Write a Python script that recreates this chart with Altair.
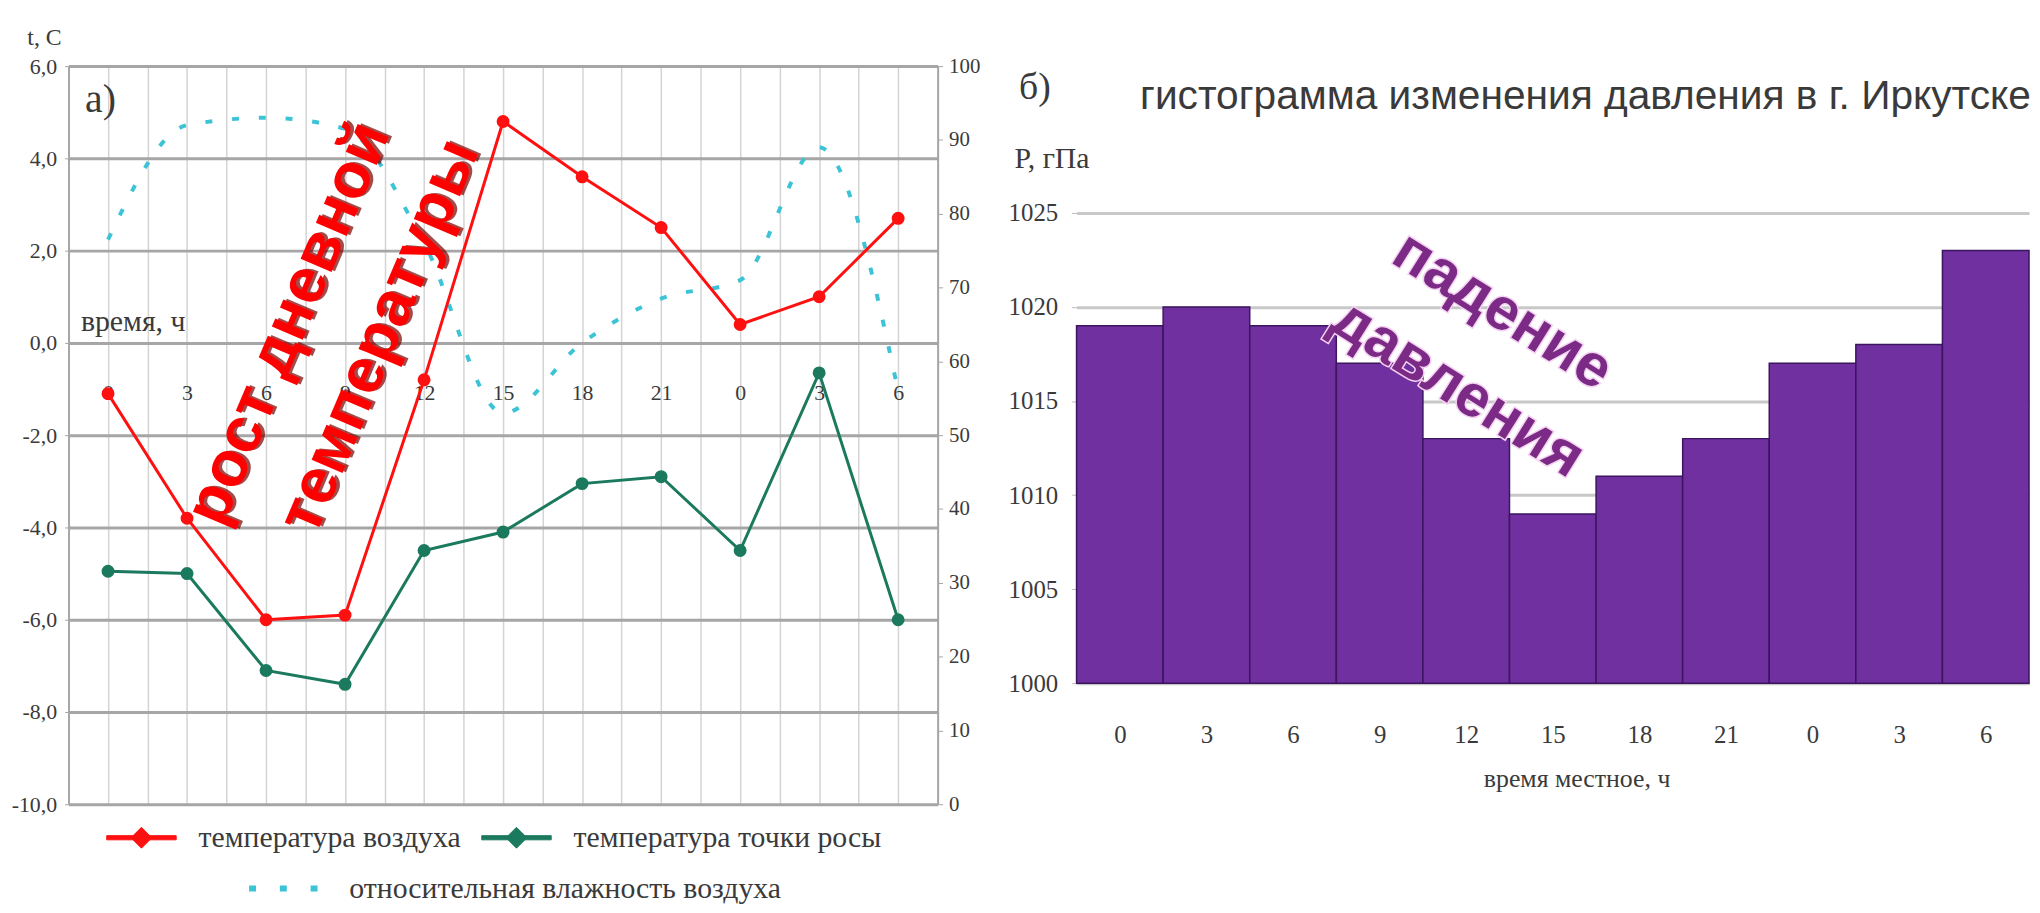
import json
import altair as alt
import pandas as pd

# ---------------- data ----------------
hour_labels = ["0", "3", "6", "9", "12", "15", "18", "21", "0", "3", "6"]
air_temp = [-1.1, -3.8, -6.0, -5.9, -0.8, 4.8, 3.6, 2.5, 0.4, 1.0, 2.7]
dew_point = [-4.95, -5.0, -7.1, -7.4, -4.5, -4.1, -3.05, -2.9, -4.5, -0.65, -6.0]
humidity = [76.5, 92, 93, 91.5, 76, 53, 62.5, 68.5, 71, 89, 56]
pressure = [1019, 1020, 1019, 1017, 1013, 1009, 1011, 1013, 1017, 1018, 1023]

series_air = "температура воздуха"
series_dew = "температура точки росы"
series_hum = "относительная влажность воздуха"

n = len(hour_labels)
idx = list(range(n))
temp_df = pd.DataFrame({
    "idx": idx + idx,
    "value": air_temp + dew_point,
    "series": [series_air] * n + [series_dew] * n,
})
hum_df = pd.DataFrame({"idx": idx, "hum": humidity, "series": [series_hum] * n})
press_df = pd.DataFrame({"idx": idx, "p": pressure})
dummy = pd.DataFrame({"d": [0]})

LBL = json.dumps(hour_labels, ensure_ascii=False)
SERIF = "Liberation Serif"
SANS = "Liberation Sans"
TXT = "#3a3a3a"

# ---------------- left chart ----------------
LW, LH = 876, 744

x_left = alt.X(
    "idx:Q",
    scale=alt.Scale(domain=[-0.5, 10.5], nice=False, zero=False),
    axis=alt.Axis(
        values=[i / 2 for i in range(-1, 22)], tickCount=100,
        labelExpr=f"datum.value % 1 == 0 ? {LBL}[datum.value] : ''",
        orient="bottom", offset=-(LH * 10 / 16), domain=False, ticks=False,
        labelPadding=40, labelFont=SERIF, labelFontSize=22, labelColor=TXT,
        labelFlush=False, labelOverlap=False,
        grid=True, gridColor="#d4d4d4", gridWidth=1.5,
        title="время, ч", titleX=12, titleY=-22, titleAlign="left",
        titleBaseline="middle", titleAngle=0, titleFont=SERIF, titleFontSize=30,
        titleFontWeight="normal", titleColor=TXT,
    ),
)

y_temp = alt.Y(
    "value:Q",
    scale=alt.Scale(domain=[-10, 6], nice=False),
    axis=alt.Axis(
        values=list(range(-10, 7, 2)), tickCount=100,
        labelExpr="replace(replace(format(datum.value, '.1f'), '.', ','), '\u2212', '-')",
        grid=True, gridColor="#a6a6a6", gridWidth=3,
        domainColor="#a6a6a6", domainWidth=2, tickColor="#a6a6a6", tickSize=4,
        labelPadding=8, labelFont=SERIF, labelFontSize=22, labelColor=TXT,
        title="t, C", titleAngle=0, titleX=-42, titleY=-29, titleAlign="left",
        titleBaseline="middle", titleFont=SERIF, titleFontSize=24,
        titleFontWeight="normal", titleColor=TXT,
    ),
)

temp_color = alt.Color(
    "series:N",
    scale=alt.Scale(domain=[series_air, series_dew], range=["#ff1010", "#1b7a5e"]),
    legend=alt.Legend(
        orient="none", legendX=38, legendY=742, direction="horizontal", title=None,
        labelFont=SERIF, labelFontSize=30, labelColor=TXT, labelLimit=600,
        symbolType="M-1,-0.06L1,-0.06L1,0.06L-1,0.06Z M0,-0.3L0.3,0L0,0.3L-0.3,0Z",
        symbolSize=4900, symbolStrokeWidth=1, symbolOpacity=1,
        labelOffset=22, columnPadding=18, padding=0,
    ),
)

temp_base = alt.Chart(temp_df)
line_temp = temp_base.mark_line(strokeWidth=3).encode(x=x_left, y=y_temp, color=temp_color)
point_temp = temp_base.mark_point(filled=True, size=170, opacity=1, shape="circle").encode(
    x=x_left, y=y_temp, color=temp_color)


def rot_text(txt, xv, yv, angle, size, color, **kw):
    return alt.Chart(dummy).mark_text(
        text=txt, angle=angle, font=SANS, fontWeight="bold", fontSize=size,
        color=color, align="center", baseline="middle", **kw,
    ).encode(x=alt.datum(xv), y=alt.datum(yv))


red_shadow1 = rot_text("рост дневной", 2.29, 0.42, 293, 64, "#7a0000", dx=2, dy=3, opacity=0.7)
red_text1 = rot_text("рост дневной", 2.29, 0.42, 293, 64, "#ff0000")
red_shadow2 = rot_text("температуры", 3.44, 0.14, 293, 64, "#7a0000", dx=2, dy=3, opacity=0.7)
red_text2 = rot_text("температуры", 3.44, 0.14, 293, 64, "#ff0000")

a_text = alt.Chart(dummy).mark_text(
    text="а)", font=SERIF, fontSize=40, align="left", baseline="middle", color=TXT
).encode(x=alt.datum(-0.29), y=alt.datum(5.27))

inner = alt.layer(line_temp, point_temp, red_shadow1, red_text1, red_shadow2, red_text2, a_text)

hum_line = alt.Chart(hum_df).mark_line(
    strokeWidth=4, strokeDash=[7, 20], interpolate="monotone"
).encode(
    x=x_left,
    y=alt.Y(
        "hum:Q",
        scale=alt.Scale(domain=[0, 100], nice=False),
        axis=alt.Axis(
            orient="right", values=list(range(0, 101, 10)), tickCount=100, grid=False,
            domainColor="#a6a6a6", domainWidth=2, tickColor="#a6a6a6", tickSize=5,
            labelPadding=6, labelFont=SERIF, labelFontSize=21, labelColor=TXT, title=None,
        ),
    ),
    color=alt.Color(
        "series:N",
        scale=alt.Scale(domain=[series_hum], range=["#3cc3d6"]),
        legend=alt.Legend(
            orient="none", legendX=179, legendY=791, title=None,
            labelFont=SERIF, labelFontSize=30, labelColor=TXT, labelLimit=600,
            symbolType="stroke", symbolDash=[7, 24], symbolStrokeWidth=6,
            symbolSize=4900, labelOffset=28, padding=0,
        ),
    ),
)

left_chart = alt.layer(hum_line, inner).resolve_scale(
    y="independent", color="independent"
).resolve_legend(color="independent").properties(width=LW, height=LH)

# ---------------- right chart ----------------
RW, RH = 960, 622

x_right = alt.X(
    "x0:Q",
    scale=alt.Scale(domain=[-0.5, 10.5], nice=False, zero=False),
    axis=alt.Axis(
        values=idx, tickCount=100, labelExpr=f"{LBL}[datum.value]", ticks=False,
        domain=True, domainColor="#bbbbbb", labelPadding=40, labelFont=SERIF,
        labelFontSize=25, labelColor=TXT, labelFlush=False, grid=False,
        title="время местное, ч", titleFont=SERIF, titleFontSize=26,
        titleFontWeight="normal", titleColor=TXT, titlePadding=18,
        titleX=RW / 2 + 24,
    ),
)
y_right = alt.Y(
    "p:Q",
    scale=alt.Scale(domain=[1000, 1032.8], nice=False, zero=False),
    axis=alt.Axis(
        values=[1000, 1005, 1010, 1015, 1020, 1025], tickCount=100, format="d",
        grid=True, gridColor="#c8c8c8",
        gridWidth=3, domain=False, tickColor="#bbbbbb", tickSize=5, labelPadding=14,
        labelFont=SERIF, labelFontSize=25, labelColor=TXT,
        title="P, гПа", titleAngle=0, titleX=-63, titleY=93, titleAlign="left",
        titleBaseline="middle", titleFont=SERIF, titleFontSize=30,
        titleFontWeight="normal", titleColor=TXT,
    ),
)

bars = alt.Chart(press_df).transform_calculate(
    x0="datum.idx - 0.5", x1="datum.idx + 0.5"
).mark_bar(color="#7030a0", stroke="#3b1560", strokeWidth=1.5, opacity=1).encode(
    x=x_right, x2="x1:Q", y=y_right, y2=alt.datum(1000)
)


def purple_text(txt, xv, yv):
    halo = alt.Chart(dummy).mark_text(
        text=txt, angle=32, font=SANS, fontWeight="bold", fontSize=60,
        color="#f4d2f1", stroke="#f4d2f1", strokeWidth=3, align="center", baseline="middle",
    ).encode(x=alt.datum(xv), y=alt.datum(yv))
    main = alt.Chart(dummy).mark_text(
        text=txt, angle=32, font=SANS, fontWeight="bold", fontSize=60,
        color="#7b2a86", align="center", baseline="middle",
    ).encode(x=alt.datum(xv), y=alt.datum(yv))
    return [halo, main]


b_text = alt.Chart(dummy).mark_text(
    text="б)", font=SERIF, fontSize=38, align="left", baseline="middle", color=TXT
).encode(x=alt.value(-58), y=alt.value(22))

right_chart = alt.layer(
    bars, *purple_text("падение", 4.42, 1019.78), *purple_text("давления", 3.905, 1015.66), b_text
).properties(
    width=RW, height=RH,
    title=alt.TitleParams(
        "гистограмма изменения давления в г. Иркутске", anchor="start", frame="group",
        dx=64, dy=72, offset=0, baseline="middle", font=SANS, fontSize=41,
        fontWeight="normal", color=TXT,
    ),
)

chart = alt.hconcat(left_chart, right_chart, spacing=140, bounds="flush").properties(
    padding={"left": 3, "top": 14, "right": 0, "bottom": 0}
).configure_view(stroke=None)

chart.save("out.html", embed_options={"renderer": "svg", "actions": False})
